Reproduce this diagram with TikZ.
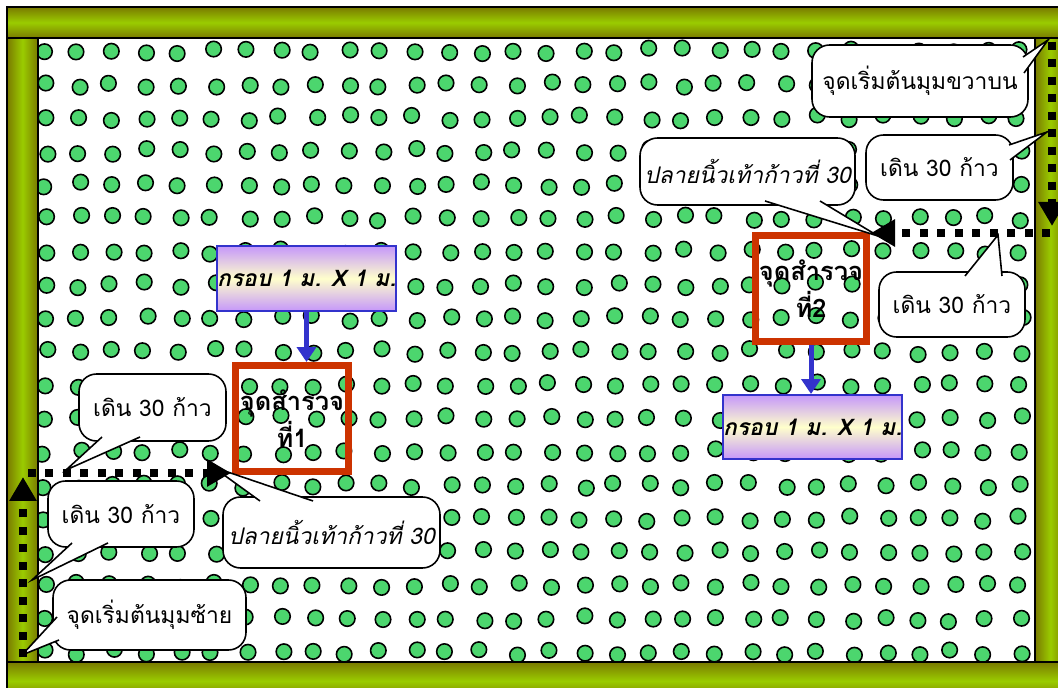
\documentclass[tikz,border=0pt]{standalone}
\usepackage{fontspec}
\usepackage{tikz}
\usetikzlibrary{arrows.meta, calc}
\newfontfamily\thaifont[Script=Thai]{Loma}
\definecolor{bardark}{HTML}{7A7A00}
\definecolor{barlight}{HTML}{9ACC00}
\definecolor{dotgreen}{HTML}{4CD66E}
\definecolor{plotred}{HTML}{CC3300}
\definecolor{arrowblue}{HTML}{3333CC}
\definecolor{boxviolet}{HTML}{C597FA}
\definecolor{boxcream}{HTML}{FFFFCC}

\begin{document}
\begin{tikzpicture}[
    x=0.02cm, y=-0.02cm,
    >={Triangle[length=0.48cm, width=0.52cm]},
    tree/.style={fill=dotgreen, draw=black, line width=0.9pt},
    hbar/.style={draw=black, line width=0.9pt, top color=bardark, bottom color=bardark, middle color=barlight},
    vbar/.style={draw=black, line width=0.9pt, left color=bardark, right color=bardark, middle color=barlight},
    bubble/.style={draw, fill=white, line width=0.9pt, rounded corners=0.35cm, align=center, inner sep=0pt, font=\thaifont\fontsize{13}{15}\selectfont},
    tail/.style={fill=white, draw=black, line width=0.9pt, line join=miter},
    plot/.style={draw=plotred, line width=0.14cm, align=center, inner sep=0pt, font=\thaifont\bfseries\fontsize{14.5}{21}\selectfont},
    frame/.style={draw=arrowblue, line width=0.04cm, top color=boxviolet, bottom color=boxviolet, middle color=boxcream, inner sep=0pt, font=\thaifont\bfseries\itshape\fontsize{13}{15}\selectfont},
    walk/.style={line width=0.16cm, dash pattern=on 0.16cm off 0.19cm},
    down/.style={arrowblue, line width=0.1cm, -{Triangle[length=0.3cm, width=0.38cm]}},
]
    \useasboundingbox (0,0) rectangle (1058,688);

    % trees in the plot
    \pgfmathsetseed{7}
    \foreach \c in {0,...,29}
        \foreach \r in {0,...,18} {
            \pgfmathsetmacro\tx{45+33.6*\c+4*rand}
            \pgfmathsetmacro\ty{51+33.4*\r+3*rand}
            \filldraw[tree] (\tx,\ty) circle[radius=0.155cm];
        }

    % border of the field
    \draw[vbar] (7,38) rectangle (38,662);
    \draw[vbar] (1035,38) rectangle (1066,662);
    \draw[hbar] (7,7) rectangle (1066,38);
    \draw[hbar] (7,662) rectangle (1066,700);

    % survey points
    \node[plot, minimum width=2.26cm, minimum height=2.12cm] (sq1) at (292,418.5) {จุดสำรวจ\\ที่1};
    \node[plot, minimum width=2.22cm, minimum height=2.12cm] (sq2) at (811,288.5) {จุดสำรวจ\\ที่2};

    % callouts, right side
    \node[bubble, minimum width=4.32cm, minimum height=1.44cm] (startR) at (920,81) {จุดเริ่มต้นมุมขวาบน};
    \filldraw[tail] (1023,57) -- (1048,40) -- (1024,73);
    \node[bubble, minimum width=2.94cm, minimum height=1.30cm] (walkR1) at (939.5,167.5) {เดิน 30 ก้าว};
    \filldraw[tail] (1009,145) -- (1047,132) -- (1010,160);
    \node[bubble, minimum width=4.30cm, minimum height=1.34cm] (toeR) at (747.5,171.5) {\itshape ปลายนิ้วเท้าก้าวที่ 30};
    \filldraw[tail] (765,201) -- (878,236) -- (820,201);
    \node[bubble, minimum width=2.92cm, minimum height=1.30cm] (walkR2) at (952,304.5) {เดิน 30 ก้าว};
    \filldraw[tail] (965,276) -- (998,235) -- (1002,276);

    % callouts, left side
    \node[bubble, minimum width=2.94cm, minimum height=1.34cm] (walkL1) at (152.5,407.5) {เดิน 30 ก้าว};
    \filldraw[tail] (102,437) -- (66,470) -- (140,437);
    \node[bubble, minimum width=2.92cm, minimum height=1.32cm] (walkL2) at (121,514) {เดิน 30 ก้าว};
    \filldraw[tail] (72,543) -- (32,580) -- (108,543);
    \node[bubble, minimum width=3.86cm, minimum height=1.40cm] (startL) at (149.5,615) {จุดเริ่มต้นมุมซ้าย};
    \filldraw[tail] (57,617) -- (22,655) -- (59,640);
    \node[bubble, minimum width=4.34cm, minimum height=1.42cm] (toeL) at (331.5,532.5) {\itshape ปลายนิ้วเท้าก้าวที่ 30};
    \filldraw[tail] (260,501) -- (213,467) -- (313,501);

    % 1 m x 1 m frames
    \node[frame, minimum width=3.38cm, minimum height=1.30cm] (pb1) at (306.5,278.5) {กรอบ 1 ม. X 1 ม.};
    \node[frame, minimum width=3.38cm, minimum height=1.28cm] (pb2) at (812.5,427) {กรอบ 1 ม. X 1 ม.};
    \draw[down] (pb1.south) -- (pb1.south |- sq1.north);
    \draw[down] (sq2.south) -- (sq2.south |- pb2.north);

    % walking paths
    \coordinate (rtop) at (1052,42);
    \coordinate (rturn) at (1052,226);
    \coordinate (rrow) at (1050,233);
    \coordinate (rend) at (871,233);
    \coordinate (lbot) at (23,657);
    \coordinate (lturn) at (23,477);
    \coordinate (lrow) at (28,473);
    \coordinate (lend) at (231,473);
    \draw[walk, ->] (rtop) -- (rturn);
    \draw[walk, ->] (rrow) -- (rend);
    \draw[walk, ->] (lbot) -- (lturn);
    \draw[walk, ->] (lrow) -- (lend);
\end{tikzpicture}
\end{document}
